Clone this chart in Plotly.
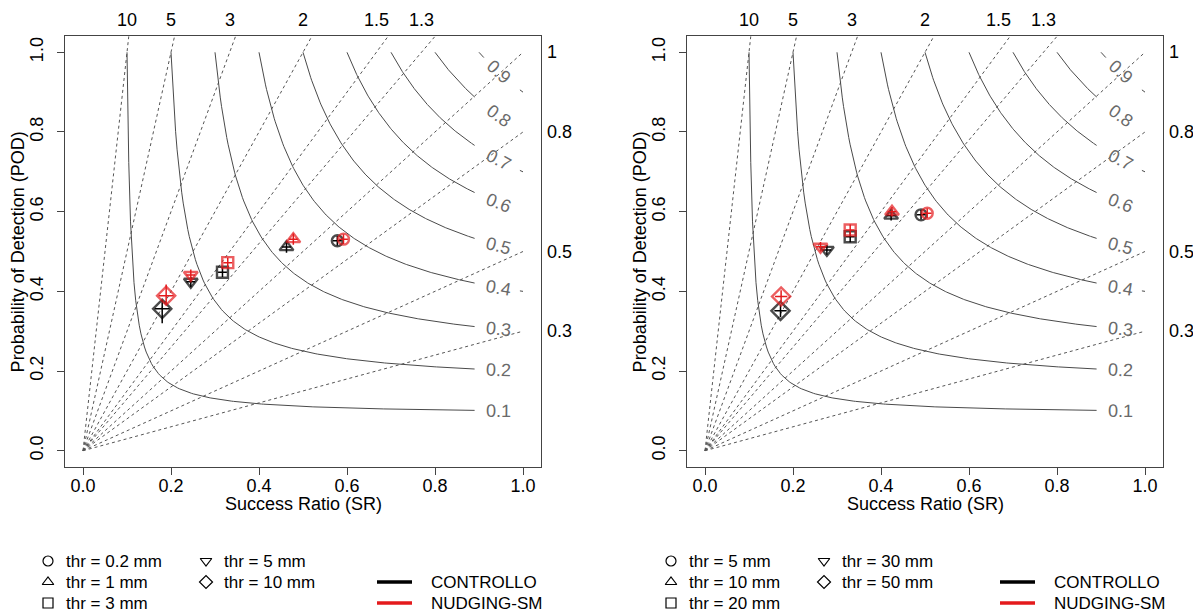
import numpy as np
import plotly.graph_objects as go

# ---------------- data ----------------
axis_ticks = [0.0, 0.2, 0.4, 0.6, 0.8, 1.0]
bias_values = [0.3, 0.5, 0.8, 1.0, 1.3, 1.5, 2.0, 3.0, 5.0, 10.0]
bias_top = [10.0, 5.0, 3.0, 2.0, 1.5, 1.3]
bias_top_labels = ["10", "5", "3", "2", "1.5", "1.3"]
bias_right = [1.0, 0.8, 0.5, 0.3]
bias_right_labels = ["1", "0.8", "0.5", "0.3"]
csi_levels = [0.1, 0.2, 0.3, 0.4, 0.5, 0.6, 0.7, 0.8, 0.9]
csi_labels = ["0.1", "0.2", "0.3", "0.4", "0.5", "0.6", "0.7", "0.8", "0.9"]
csi_tail_levels = [0.4, 0.7, 0.9]

symbols = ["circle-open", "triangle-up-open", "square-open", "triangle-down-open", "diamond-open"]
thr_left = ["thr = 0.2 mm", "thr = 1 mm", "thr = 3 mm", "thr = 5 mm", "thr = 10 mm"]
thr_right = ["thr = 5 mm", "thr = 10 mm", "thr = 20 mm", "thr = 30 mm", "thr = 50 mm"]
models = ["CONTROLLO", "NUDGING-SM"]
model_colors = ["#000000", "#e41a1c"]

# left panel (thr 0.2, 1, 3, 5, 10 mm)
left_ctrl_sr = [0.578, 0.4625, 0.317, 0.245, 0.180]
left_ctrl_pod = [0.527, 0.511, 0.448, 0.424, 0.356]
left_nudg_sr = [0.592, 0.478, 0.329, 0.245, 0.189]
left_nudg_pod = [0.531, 0.531, 0.472, 0.441, 0.389]
left_ctrl_sr_err = [0.010, 0.010, 0.010, 0.010, 0.017]
left_ctrl_pod_hi = [0.012, 0.014, 0.012, 0.012, 0.022]
left_ctrl_pod_lo = [0.012, 0.014, 0.012, 0.014, 0.036]
left_nudg_sr_err = [0.010, 0.010, 0.010, 0.010, 0.017]
left_nudg_pod_hi = [0.012, 0.014, 0.012, 0.014, 0.028]
left_nudg_pod_lo = [0.012, 0.014, 0.012, 0.014, 0.022]

# right panel (thr 5, 10, 20, 30, 50 mm)
right_ctrl_sr = [0.491, 0.423, 0.330, 0.277, 0.1716]
right_ctrl_pod = [0.592, 0.590, 0.537, 0.504, 0.351]
right_nudg_sr = [0.505, 0.425, 0.330, 0.2625, 0.173]
right_nudg_pod = [0.596, 0.600, 0.554, 0.512, 0.387]
right_ctrl_sr_err = [0.010, 0.010, 0.010, 0.010, 0.014]
right_ctrl_pod_hi = [0.012, 0.012, 0.014, 0.012, 0.016]
right_ctrl_pod_lo = [0.012, 0.012, 0.014, 0.012, 0.016]
right_nudg_sr_err = [0.010, 0.010, 0.010, 0.010, 0.014]
right_nudg_pod_hi = [0.012, 0.012, 0.014, 0.012, 0.016]
right_nudg_pod_lo = [0.012, 0.012, 0.014, 0.012, 0.016]

# ---------------- layout geometry (window pixels) ----------------
OFF = 8                        # page body margin
W, H = 1201 - OFF, 612 - OFF   # figure size
PX, PY = 440.0, 398.4          # pixels per unit
Y0 = 450.7                     # window row of POD = 0
OX = {1: 83.0, 2: 705.0}       # window column of SR = 0 per panel
FONT = "Liberation Sans, Arial, Helvetica, sans-serif"
GRAY = "#444444"


def wx(px):
    return (px - OFF) / W


def wy(py):
    return 1 - (py - OFF) / H


def to_paper(panel, sr, pod):
    return wx(OX[panel] + sr * PX), wy(Y0 - pod * PY)


fig = go.Figure()
annotations = []

panels = [
    (1, "x", "y", left_ctrl_sr, left_ctrl_pod, left_nudg_sr, left_nudg_pod,
     left_ctrl_sr_err, left_ctrl_pod_hi, left_ctrl_pod_lo,
     left_nudg_sr_err, left_nudg_pod_hi, left_nudg_pod_lo),
    (2, "x2", "y2", right_ctrl_sr, right_ctrl_pod, right_nudg_sr, right_nudg_pod,
     right_ctrl_sr_err, right_ctrl_pod_hi, right_ctrl_pod_lo,
     right_nudg_sr_err, right_nudg_pod_hi, right_nudg_pod_lo),
]

for (p, xa, ya, csr, cpod, nsr, npod, cse, cph, cpl, nse, nph, npl) in panels:
    # bias lines
    for b in bias_values:
        fig.add_trace(go.Scatter(x=[0, 1], y=[0, b], mode="lines", xaxis=xa, yaxis=ya,
                                 line=dict(color="#555555", width=1, dash="3px,3px"),
                                 showlegend=False, hoverinfo="skip"))
    # CSI contours
    for c, lab in zip(csi_levels, csi_labels):
        x_end = max(0.89, c + 0.011)
        srs = np.linspace(c, x_end, 200)
        pods = 1.0 / (1.0 / c + 1.0 - 1.0 / srs)
        fig.add_trace(go.Scatter(x=srs, y=pods, mode="lines", xaxis=xa, yaxis=ya,
                                 line=dict(color="#4a4a4a", width=1),
                                 showlegend=False, hoverinfo="skip"))
        if c in csi_tail_levels:
            srt = np.linspace(0.993, 1.0, 5)
            podt = 1.0 / (1.0 / c + 1.0 - 1.0 / srt)
            fig.add_trace(go.Scatter(x=srt, y=podt, mode="lines", xaxis=xa, yaxis=ya,
                                     line=dict(color="#4a4a4a", width=1),
                                     showlegend=False, hoverinfo="skip"))
        sl = 0.945
        pl = 1.0 / (1.0 / c + 1.0 - 1.0 / sl)
        ang = np.degrees(np.arctan((pl ** 2 / sl ** 2) * PY / PX))
        lx, ly = to_paper(p, sl, pl)
        annotations.append(dict(x=lx, y=ly, xref="paper", yref="paper", text=lab,
                                showarrow=False, textangle=float(ang),
                                font=dict(family=FONT, size=18, color="#6a6a6a"),
                                xanchor="center", yanchor="middle"))
    # bias labels
    for b, lab in zip(bias_top, bias_top_labels):
        lx, ly = to_paper(p, 1.0 / b, 1.081)
        annotations.append(dict(x=lx, y=ly, xref="paper", yref="paper", text=lab,
                                showarrow=False, font=dict(family=FONT, size=18, color="#000"),
                                xanchor="center", yanchor="middle"))
    for b, lab in zip(bias_right, bias_right_labels):
        lx, ly = to_paper(p, 1.05, b)
        annotations.append(dict(x=lx, y=ly, xref="paper", yref="paper", text=lab,
                                showarrow=False, font=dict(family=FONT, size=18, color="#000"),
                                xanchor="left", yanchor="middle"))
    # axis titles
    tx, ty = to_paper(p, 0.5, -0.135)
    annotations.append(dict(x=tx, y=ty, xref="paper", yref="paper", text="Success Ratio (SR)",
                            showarrow=False, font=dict(family=FONT, size=18, color="#000"),
                            xanchor="center", yanchor="middle"))
    tx, ty = to_paper(p, -0.148, 0.5)
    annotations.append(dict(x=tx, y=ty, xref="paper", yref="paper",
                            text="Probability of Detection (POD)", textangle=-90,
                            showarrow=False, font=dict(family=FONT, size=18, color="#000"),
                            xanchor="center", yanchor="middle"))
    # data points
    for (sr, pod, se, ph, plo, col, name) in [
        (csr, cpod, cse, cph, cpl, model_colors[0], models[0]),
        (nsr, npod, nse, nph, npl, model_colors[1], models[1]),
    ]:
        sizes = [11, 12, 11, 12, 14]
        fig.add_trace(go.Scatter(
            x=sr, y=pod, mode="markers", xaxis=xa, yaxis=ya, name=name,
            marker=dict(symbol=symbols, size=sizes, color=col, line=dict(width=2.4, color=col)),
            error_x=dict(type="data", array=se, arrayminus=se, width=0, thickness=1.5, color=col),
            error_y=dict(type="data", array=ph, arrayminus=plo, width=0, thickness=1.5, color=col),
            showlegend=False, cliponaxis=False))

# ---------------- custom legends (window-pixel axis) ----------------
leg_rows = [561, 582, 603]
leg_layout = [
    # (labels, col1 symbol x, col1 text x, col2 symbol x, col2 text x, line x0, line x1, text x)
    (thr_left, 48, 64, 206, 222, 377, 412, 429),
    (thr_right, 671, 687, 824, 840, 1000, 1035, 1052),
]
for (labels, s1, t1, s2, t2, lx0, lx1, ltx) in leg_layout:
    sx = [s1, s1, s1, s2, s2]
    sy = [leg_rows[0], leg_rows[1], leg_rows[2], leg_rows[0], leg_rows[1]]
    tx = [t1, t1, t1, t2, t2]
    fig.add_trace(go.Scatter(x=sx, y=sy, mode="markers", xaxis="x3", yaxis="y3",
                             marker=dict(symbol=symbols, size=10, color="#000",
                                         line=dict(width=1.2, color="#000")),
                             showlegend=False, cliponaxis=False, hoverinfo="skip"))
    for lab, xx, yy in zip(labels, tx, sy):
        annotations.append(dict(x=xx, y=yy, xref="x3", yref="y3", text=lab, showarrow=False,
                                font=dict(family=FONT, size=17, color="#000"),
                                xanchor="left", yanchor="middle"))
    for m, col, yy in zip(models, model_colors, leg_rows[1:]):
        fig.add_trace(go.Scatter(x=[lx0, lx1], y=[yy, yy], mode="lines", xaxis="x3", yaxis="y3",
                                 line=dict(color=col, width=3.5), showlegend=False,
                                 hoverinfo="skip", cliponaxis=False))
        annotations.append(dict(x=ltx, y=yy, xref="x3", yref="y3", text=m, showarrow=False,
                                font=dict(family=FONT, size=17, color="#000"),
                                xanchor="left", yanchor="middle"))


def xdom(p):
    return [wx(OX[p] - 0.04 * PX), wx(OX[p] + 1.04 * PX)]


ydom = [wy(Y0 + 0.04 * PY), wy(Y0 - 1.04 * PY)]

axis_common = dict(range=[-0.04, 1.04], tickmode="array", tickvals=axis_ticks,
                   ticktext=["%.1f" % t for t in axis_ticks], ticks="outside", ticklen=7,
                   tickwidth=1, tickcolor=GRAY, showline=True, linecolor=GRAY, linewidth=1,
                   mirror=True, showgrid=False, zeroline=False,
                   tickfont=dict(family=FONT, size=18, color="#000"), fixedrange=True)

leg_dom_h = 0.14
fig.update_layout(
    width=W, height=H,
    margin=dict(l=0, r=0, t=0, b=0),
    paper_bgcolor="white", plot_bgcolor="rgba(0,0,0,0)",
    showlegend=False,
    xaxis=dict(domain=xdom(1), anchor="y", ticklabelstandoff=-4, **axis_common),
    yaxis=dict(domain=ydom, anchor="x", tickangle=-90, ticklabelstandoff=7, **axis_common),
    xaxis2=dict(domain=xdom(2), anchor="y2", ticklabelstandoff=-4, **axis_common),
    yaxis2=dict(domain=ydom, anchor="x2", tickangle=-90, ticklabelstandoff=7, **axis_common),
    xaxis3=dict(domain=[0, 1], range=[OFF, OFF + W], visible=False, anchor="y3", fixedrange=True),
    yaxis3=dict(domain=[0, leg_dom_h], range=[OFF + H, OFF + H - leg_dom_h * H], visible=False,
                anchor="x3", fixedrange=True),
    annotations=annotations,
)

fig.write_html("out.html")
